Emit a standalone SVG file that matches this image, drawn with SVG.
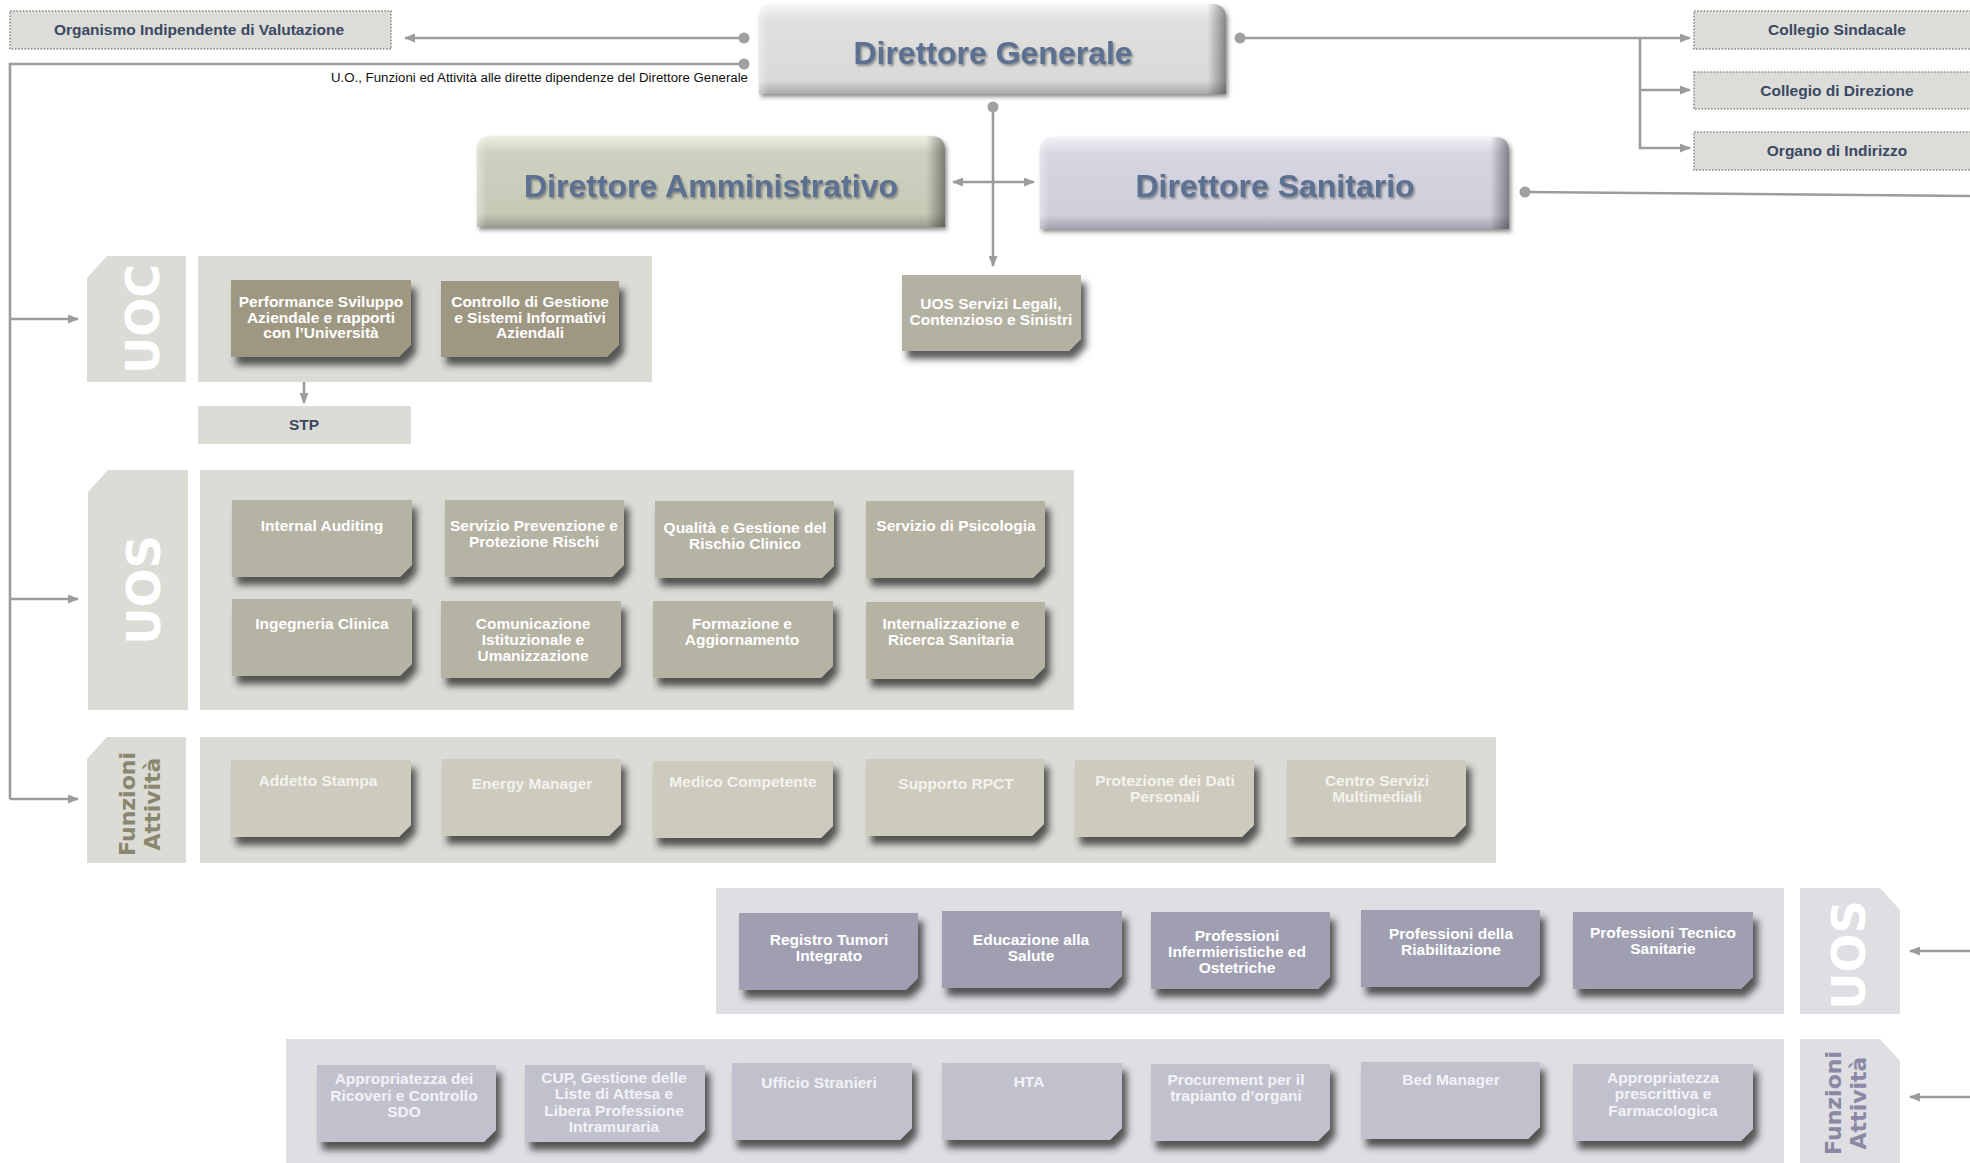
<svg xmlns="http://www.w3.org/2000/svg" width="1970" height="1163" viewBox="0 0 1970 1163">
  <defs>
    <style>
      .line { stroke: #9c9c9c; stroke-width: 2.6; fill: none; }
      .dot { fill: #a0a0a0; }
      .panelL { fill: #dcdcd6; }
      .panelR { fill: #dedee3; }
      .dotted { fill: #dcdcd8; stroke: #8a8a86; stroke-width: 1.6; stroke-dasharray: 1.6 1.6; }
      .lbl { font-family: "Liberation Sans", Arial, sans-serif; font-weight: bold; font-size: 15.5px; fill: #3a4862; text-anchor: middle; }
      .hdr { font-family: "Liberation Sans", Arial, sans-serif; font-weight: bold; font-size: 32px; fill: #5b7091; text-anchor: middle; }
      .bx { font-family: "Liberation Sans", Arial, sans-serif; font-weight: bold; font-size: 15.5px; text-anchor: middle; }
      .wt { fill: #ffffff; }
      .lt { fill: #f3f3ee; }
      .ltb { fill: #f3f3f7; }
      .tab { font-family: "DejaVu Sans", Verdana, sans-serif; font-weight: bold; text-anchor: middle; }
      .uoc { fill: #9e9882; }
      .uos { fill: #b5b3a3; }
      .fun { fill: #cdcabe; }
      .ruos { fill: #9f9fb1; }
      .rfun { fill: #c1c1cd; }
      .cap { font-family: "Liberation Sans", Arial, sans-serif; font-size: 12px; fill: #111; text-anchor: end; }
    </style>
    <marker id="arr" markerWidth="11" markerHeight="9" refX="10" refY="4.5" orient="auto-start-reverse" markerUnits="userSpaceOnUse">
      <path d="M0,0 L11,4.5 L0,9 z" fill="#9c9c9c"/>
    </marker>
    <filter id="shd" x="-10%" y="-10%" width="130%" height="140%">
      <feDropShadow dx="5" dy="8" stdDeviation="3.5" flood-color="#2e2e2e" flood-opacity="0.78"/>
    </filter>
    <filter id="hshd" x="-5%" y="-10%" width="115%" height="130%">
      <feDropShadow dx="2" dy="3" stdDeviation="2" flood-color="#333" flood-opacity="0.55"/>
    </filter>
    <filter id="tshd" x="-5%" y="-20%" width="110%" height="150%">
      <feDropShadow dx="1.5" dy="2" stdDeviation="1" flood-color="#5e5e5e" flood-opacity="0.65"/>
    </filter>
    <linearGradient id="gDG" x1="0" y1="0" x2="0" y2="1">
      <stop offset="0" stop-color="#f6f6f4"/>
      <stop offset="0.18" stop-color="#e0e0de"/>
      <stop offset="0.85" stop-color="#d9d9d7"/>
      <stop offset="1" stop-color="#a9a9a7"/>
    </linearGradient>
    <linearGradient id="gDA" x1="0" y1="0" x2="0" y2="1">
      <stop offset="0" stop-color="#eef0e4"/>
      <stop offset="0.18" stop-color="#cfd1c0"/>
      <stop offset="0.85" stop-color="#c8cab8"/>
      <stop offset="1" stop-color="#9a9c8c"/>
    </linearGradient>
    <linearGradient id="gDS" x1="0" y1="0" x2="0" y2="1">
      <stop offset="0" stop-color="#f1f1f8"/>
      <stop offset="0.18" stop-color="#d6d6e2"/>
      <stop offset="0.85" stop-color="#cfcfdb"/>
      <stop offset="1" stop-color="#a0a0ac"/>
    </linearGradient>
    <linearGradient id="gEdge" x1="0" y1="0" x2="1" y2="0">
      <stop offset="0" stop-color="#ffffff" stop-opacity="0.35"/>
      <stop offset="0.02" stop-color="#ffffff" stop-opacity="0"/>
      <stop offset="0.96" stop-color="#000000" stop-opacity="0"/>
      <stop offset="1" stop-color="#000000" stop-opacity="0.4"/>
    </linearGradient>
  </defs>

  <rect width="1970" height="1163" fill="#ffffff"/>

  <!-- connectors -->
  <g id="connectors">
    <!-- DG to Organismo -->
    <line class="line" x1="744" y1="38" x2="405" y2="38" marker-end="url(#arr)"/>
    <circle class="dot" cx="744" cy="38" r="5.5"/>
    <!-- DG staff bus down the left side -->
    <polyline class="line" points="744,64 10,64 10,799"/>
    <circle class="dot" cx="744" cy="64" r="5.5"/>
    <line class="line" x1="10" y1="319" x2="78" y2="319" marker-end="url(#arr)"/>
    <line class="line" x1="10" y1="599" x2="78" y2="599" marker-end="url(#arr)"/>
    <line class="line" x1="10" y1="799" x2="78" y2="799" marker-end="url(#arr)"/>
    <!-- DG to collegial bodies -->
    <line class="line" x1="1240" y1="38" x2="1690" y2="38" marker-end="url(#arr)"/>
    <circle class="dot" cx="1240" cy="38" r="5.5"/>
    <polyline class="line" points="1640,38 1640,148 1690,148" marker-end="url(#arr)"/>
    <line class="line" x1="1640" y1="90" x2="1690" y2="90" marker-end="url(#arr)"/>
    <!-- DG down to legal office -->
    <line class="line" x1="993" y1="107" x2="993" y2="266" marker-end="url(#arr)"/>
    <circle class="dot" cx="993" cy="107" r="5.5"/>
    <!-- DA <-> DS -->
    <line class="line" x1="953" y1="182" x2="1034" y2="182" marker-start="url(#arr)" marker-end="url(#arr)"/>
    <!-- DS to the right -->
    <line class="line" x1="1525" y1="192" x2="1970" y2="196"/>
    <circle class="dot" cx="1525" cy="192" r="5.5"/>
    <!-- incoming to sanitary sections -->
    <line class="line" x1="1970" y1="951" x2="1910" y2="951" marker-end="url(#arr)"/>
    <line class="line" x1="1970" y1="1097" x2="1910" y2="1097" marker-end="url(#arr)"/>
    <!-- Performance to STP -->
    <line class="line" x1="304" y1="358" x2="304" y2="403" marker-end="url(#arr)"/>
  </g>

  <!-- top row -->
  <g id="oiv">
    <rect class="dotted" x="10" y="11" width="381" height="38"/>
    <text class="lbl" x="199" y="35">Organismo Indipendente di Valutazione</text>
  </g>
  <text class="cap" x="748" y="82" textLength="417" lengthAdjust="spacingAndGlyphs">U.O., Funzioni ed Attività alle dirette dipendenze del Direttore Generale</text>

  <g id="dg">
    <path d="M759,94 V18 Q759,4 773,4 H1212 Q1226,4 1226,18 V94 Z" fill="url(#gDG)" filter="url(#hshd)"/>
    <path d="M759,94 V18 Q759,4 773,4 H1212 Q1226,4 1226,18 V94 Z" fill="url(#gEdge)"/>
    <text class="hdr" x="993" y="64" filter="url(#tshd)">Direttore Generale</text>
  </g>

  <g id="collegio-sindacale">
    <rect class="dotted" x="1694" y="11" width="290" height="38"/>
    <text class="lbl" x="1837" y="35">Collegio Sindacale</text>
  </g>
  <g id="collegio-direzione">
    <rect class="dotted" x="1694" y="72" width="290" height="37"/>
    <text class="lbl" x="1837" y="96">Collegio di Direzione</text>
  </g>
  <g id="organo-indirizzo">
    <rect class="dotted" x="1694" y="132" width="290" height="38"/>
    <text class="lbl" x="1837" y="156">Organo di Indirizzo</text>
  </g>

  <g id="da">
    <path d="M477,227 V150 Q477,136 491,136 H931 Q945,136 945,150 V227 Z" fill="url(#gDA)" filter="url(#hshd)"/>
    <path d="M477,227 V150 Q477,136 491,136 H931 Q945,136 945,150 V227 Z" fill="url(#gEdge)"/>
    <text class="hdr" x="711" y="197" filter="url(#tshd)">Direttore Amministrativo</text>
  </g>

  <g id="ds">
    <path d="M1040,229 V151 Q1040,137 1054,137 H1495 Q1509,137 1509,151 V229 Z" fill="url(#gDS)" filter="url(#hshd)"/>
    <path d="M1040,229 V151 Q1040,137 1054,137 H1495 Q1509,137 1509,151 V229 Z" fill="url(#gEdge)"/>
    <text class="hdr" x="1275" y="197" filter="url(#tshd)">Direttore Sanitario</text>
  </g>

  <g id="legali">
    <path d="M902,275 H1081 V339 L1069,351 H902 Z" fill="#b3b1a1" filter="url(#shd)"/>
    <text class="bx wt" x="991" y="309">UOS Servizi Legali,</text>
    <text class="bx wt" x="991" y="325">Contenzioso e Sinistri</text>
  </g>

  <!-- UOC section -->
  <g id="uoc-section">
    <path class="panelL" d="M87,278 L107,256 H186 V382 H87 Z"/>
    <text class="tab" font-size="46" fill="#ffffff" transform="translate(142,319) rotate(-90)" x="0" y="17">UOC</text>
    <rect class="panelL" x="198" y="256" width="454" height="126"/>
  </g>
  <g id="uoc-performance">
    <path class="uoc" d="M231,280 H411 V345 L399,357 H231 Z" filter="url(#shd)"/>
    <text class="bx wt" x="321" y="307">Performance Sviluppo</text>
    <text class="bx wt" x="321" y="323">Aziendale e rapporti</text>
    <text class="bx wt" x="321" y="338">con l’Università</text>
  </g>
  <g id="uoc-controllo">
    <path class="uoc" d="M441,281 H619 V345 L607,357 H441 Z" filter="url(#shd)"/>
    <text class="bx wt" x="530" y="307">Controllo di Gestione</text>
    <text class="bx wt" x="530" y="323">e Sistemi Informativi</text>
    <text class="bx wt" x="530" y="338">Aziendali</text>
  </g>
  <g id="stp">
    <rect class="panelL" x="198" y="406" width="213" height="38"/>
    <text class="lbl" x="304" y="430">STP</text>
  </g>

  <!-- UOS section (DG) -->
  <g id="uos-section">
    <path class="panelL" d="M88,492 L108,470 H188 V710 H88 Z"/>
    <text class="tab" font-size="46" fill="#ffffff" transform="translate(143,590) rotate(-90)" x="0" y="17">UOS</text>
    <rect class="panelL" x="200" y="470" width="874" height="240"/>
  </g>
  <g id="uos-internal-auditing">
    <path class="uos" d="M232,500 H412 V565 L400,577 H232 Z" filter="url(#shd)"/>
    <text class="bx wt" x="322" y="531">Internal Auditing</text>
  </g>
  <g id="uos-prevenzione">
    <path class="uos" d="M445,500 H624 V565 L612,577 H445 Z" filter="url(#shd)"/>
    <text class="bx wt" x="534" y="531">Servizio Prevenzione e</text>
    <text class="bx wt" x="534" y="547">Protezione Rischi</text>
  </g>
  <g id="uos-qualita">
    <path class="uos" d="M655,501 H834 V566 L822,578 H655 Z" filter="url(#shd)"/>
    <text class="bx wt" x="745" y="533">Qualità e Gestione del</text>
    <text class="bx wt" x="745" y="549">Rischio Clinico</text>
  </g>
  <g id="uos-psicologia">
    <path class="uos" d="M866,501 H1045 V566 L1033,578 H866 Z" filter="url(#shd)"/>
    <text class="bx wt" x="956" y="531">Servizio di Psicologia</text>
  </g>
  <g id="uos-ingegneria">
    <path class="uos" d="M232,599 H412 V664 L400,676 H232 Z" filter="url(#shd)"/>
    <text class="bx wt" x="322" y="629">Ingegneria Clinica</text>
  </g>
  <g id="uos-comunicazione">
    <path class="uos" d="M441,601 H621 V666 L609,678 H441 Z" filter="url(#shd)"/>
    <text class="bx wt" x="533" y="629">Comunicazione</text>
    <text class="bx wt" x="533" y="645">Istituzionale e</text>
    <text class="bx wt" x="533" y="661">Umanizzazione</text>
  </g>
  <g id="uos-formazione">
    <path class="uos" d="M653,601 H833 V666 L821,678 H653 Z" filter="url(#shd)"/>
    <text class="bx wt" x="742" y="629">Formazione e</text>
    <text class="bx wt" x="742" y="645">Aggiornamento</text>
  </g>
  <g id="uos-internalizzazione">
    <path class="uos" d="M866,602 H1045 V667 L1033,679 H866 Z" filter="url(#shd)"/>
    <text class="bx wt" x="951" y="629">Internalizzazione e</text>
    <text class="bx wt" x="951" y="645">Ricerca Sanitaria</text>
  </g>

  <!-- Funzioni / Attività section (DG) -->
  <g id="fa-section">
    <path class="panelL" d="M87,759 L107,737 H186 V863 H87 Z"/>
    <g transform="translate(140,804) rotate(-90)">
      <text class="tab" font-size="22" fill="#8a8770" x="0" y="-5">Funzioni</text>
      <text class="tab" font-size="22" fill="#8a8770" x="0" y="20">Attività</text>
    </g>
    <rect class="panelL" x="200" y="737" width="1296" height="126"/>
  </g>
  <g id="fa-stampa">
    <path class="fun" d="M231,760 H411 V825 L399,837 H231 Z" filter="url(#shd)"/>
    <text class="bx lt" x="318" y="786">Addetto Stampa</text>
  </g>
  <g id="fa-energy">
    <path class="fun" d="M442,759 H621 V824 L609,836 H442 Z" filter="url(#shd)"/>
    <text class="bx lt" x="532" y="789">Energy Manager</text>
  </g>
  <g id="fa-medico">
    <path class="fun" d="M653,761 H833 V826 L821,838 H653 Z" filter="url(#shd)"/>
    <text class="bx lt" x="743" y="787">Medico Competente</text>
  </g>
  <g id="fa-rpct">
    <path class="fun" d="M866,759 H1044 V824 L1032,836 H866 Z" filter="url(#shd)"/>
    <text class="bx lt" x="956" y="789">Supporto RPCT</text>
  </g>
  <g id="fa-privacy">
    <path class="fun" d="M1075,760 H1254 V825 L1242,837 H1075 Z" filter="url(#shd)"/>
    <text class="bx lt" x="1165" y="786">Protezione dei Dati</text>
    <text class="bx lt" x="1165" y="802">Personali</text>
  </g>
  <g id="fa-multimedia">
    <path class="fun" d="M1287,760 H1466 V825 L1454,837 H1287 Z" filter="url(#shd)"/>
    <text class="bx lt" x="1377" y="786">Centro Servizi</text>
    <text class="bx lt" x="1377" y="802">Multimediali</text>
  </g>

  <!-- UOS section (DS) -->
  <g id="ds-uos-section">
    <rect class="panelR" x="716" y="888" width="1068" height="126"/>
    <path class="panelR" d="M1800,888 H1880 L1900,910 V1014 H1800 Z"/>
    <text class="tab" font-size="46" fill="#ffffff" transform="translate(1848,955) rotate(-90)" x="0" y="17">UOS</text>
  </g>
  <g id="ds-registro">
    <path class="ruos" d="M739,913 H918 V978 L906,990 H739 Z" filter="url(#shd)"/>
    <text class="bx wt" x="829" y="945">Registro Tumori</text>
    <text class="bx wt" x="829" y="961">Integrato</text>
  </g>
  <g id="ds-educazione">
    <path class="ruos" d="M942,911 H1122 V976 L1110,988 H942 Z" filter="url(#shd)"/>
    <text class="bx wt" x="1031" y="945">Educazione alla</text>
    <text class="bx wt" x="1031" y="961">Salute</text>
  </g>
  <g id="ds-infermieristiche">
    <path class="ruos" d="M1151,912 H1330 V977 L1318,989 H1151 Z" filter="url(#shd)"/>
    <text class="bx wt" x="1237" y="941">Professioni</text>
    <text class="bx wt" x="1237" y="957">Infermieristiche ed</text>
    <text class="bx wt" x="1237" y="973">Ostetriche</text>
  </g>
  <g id="ds-riabilitazione">
    <path class="ruos" d="M1361,910 H1540 V975 L1528,987 H1361 Z" filter="url(#shd)"/>
    <text class="bx wt" x="1451" y="939">Professioni della</text>
    <text class="bx wt" x="1451" y="955">Riabilitazione</text>
  </g>
  <g id="ds-tecnico">
    <path class="ruos" d="M1573,912 H1753 V977 L1741,989 H1573 Z" filter="url(#shd)"/>
    <text class="bx wt" x="1663" y="938">Professioni Tecnico</text>
    <text class="bx wt" x="1663" y="954">Sanitarie</text>
  </g>

  <!-- Funzioni / Attività section (DS) -->
  <g id="ds-fa-section">
    <rect class="panelR" x="286" y="1039" width="1498" height="124"/>
    <path class="panelR" d="M1800,1039 H1880 L1900,1061 V1163 H1800 Z"/>
    <g transform="translate(1845,1103) rotate(-90)">
      <text class="tab" font-size="22" fill="#8a88a4" x="0" y="-4">Funzioni</text>
      <text class="tab" font-size="22" fill="#8a88a4" x="0" y="21">Attività</text>
    </g>
  </g>
  <g id="ds-ricoveri">
    <path class="rfun" d="M317,1065 H496 V1130 L484,1142 H317 Z" filter="url(#shd)"/>
    <text class="bx ltb" x="404" y="1084">Appropriatezza dei</text>
    <text class="bx ltb" x="404" y="1101">Ricoveri e Controllo</text>
    <text class="bx ltb" x="404" y="1117">SDO</text>
  </g>
  <g id="ds-cup">
    <path class="rfun" d="M525,1065 H705 V1130 L693,1142 H525 Z" filter="url(#shd)"/>
    <text class="bx ltb" x="614" y="1083">CUP, Gestione delle</text>
    <text class="bx ltb" x="614" y="1099">Liste di Attesa e</text>
    <text class="bx ltb" x="614" y="1116">Libera Professione</text>
    <text class="bx ltb" x="614" y="1132">Intramuraria</text>
  </g>
  <g id="ds-stranieri">
    <path class="rfun" d="M732,1063 H912 V1128 L900,1140 H732 Z" filter="url(#shd)"/>
    <text class="bx ltb" x="819" y="1088">Ufficio Stranieri</text>
  </g>
  <g id="ds-hta">
    <path class="rfun" d="M942,1063 H1122 V1128 L1110,1140 H942 Z" filter="url(#shd)"/>
    <text class="bx ltb" x="1029" y="1087">HTA</text>
  </g>
  <g id="ds-procurement">
    <path class="rfun" d="M1151,1064 H1330 V1129 L1318,1141 H1151 Z" filter="url(#shd)"/>
    <text class="bx ltb" x="1236" y="1085">Procurement per il</text>
    <text class="bx ltb" x="1236" y="1101">trapianto d’organi</text>
  </g>
  <g id="ds-bed">
    <path class="rfun" d="M1361,1062 H1540 V1127 L1528,1139 H1361 Z" filter="url(#shd)"/>
    <text class="bx ltb" x="1451" y="1085">Bed Manager</text>
  </g>
  <g id="ds-farmaco">
    <path class="rfun" d="M1573,1064 H1753 V1129 L1741,1141 H1573 Z" filter="url(#shd)"/>
    <text class="bx ltb" x="1663" y="1083">Appropriatezza</text>
    <text class="bx ltb" x="1663" y="1099">prescrittiva e</text>
    <text class="bx ltb" x="1663" y="1116">Farmacologica</text>
  </g>
</svg>
